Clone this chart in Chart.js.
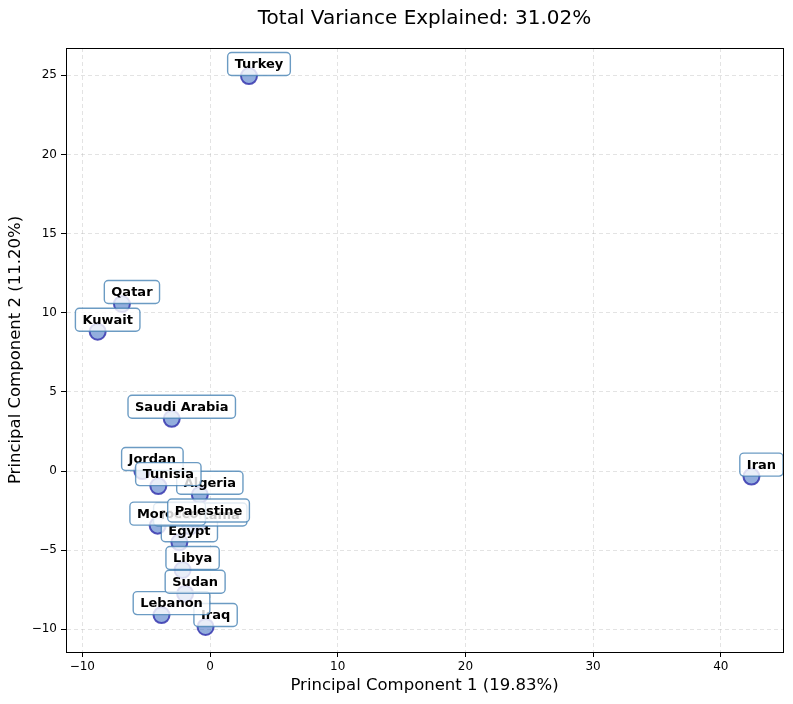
<!DOCTYPE html>
<html>
<head>
<meta charset="utf-8">
<script src="https://cdn.jsdelivr.net/npm/chart.js@4"></script>
<style>
  html, body { margin: 0; padding: 0; background: #ffffff; }
  #wrap { width: 793px; height: 704px; position: relative; }
</style>
</head>
<body>
<div id="wrap"><canvas id="c" width="793" height="704"></canvas></div>
<script>
// ---- data ----
const countries = ['Algeria','Egypt','Iran','Iraq','Jordan','Kuwait','Lebanon','Libya','Mauritania','Morocco','Palestine','Qatar','Saudi Arabia','Sudan','Tunisia','Turkey'];
const pc1 = [-0.8, -2.4, 42.4, -0.35, -5.3, -8.8, -3.8, -2.15, -1.55, -4.1, -0.9, -6.9, -3.0, -1.95, -4.05, 3.05];
const pc2 = [-1.5, -4.5, -0.35, -9.85, 0.0, 8.8, -9.1, -6.25, -3.5, -3.45, -3.25, 10.55, 3.3, -7.75, -0.95, 24.95];
const xTicks = [-10, 0, 10, 20, 30, 40];
const yTicks = [-10, -5, 0, 5, 10, 15, 20, 25];
const xRange = [-11.28, 44.87];
const yRange = [-11.43, 26.72];
const titleText = 'Total Variance Explained: 31.02%';
const xTitle = 'Principal Component 1 (19.83%)';
const yTitle = 'Principal Component 2 (11.20%)';

const FONT = "'DejaVu Sans', sans-serif";
const points = pc1.map((x, i) => ({ x: x, y: pc2[i] }));

const labelPlugin = {
  id: 'pointLabels',
  afterDatasetsDraw(chart) {
    const ctx = chart.ctx;
    const meta = chart.getDatasetMeta(0);
    ctx.save();
    ctx.font = "bold 13px " + FONT;
    ctx.textAlign = 'center';
    ctx.textBaseline = 'middle';
    meta.data.forEach((el, i) => {
      const cx = el.x + 10;
      const cy = el.y - 12;
      const txt = countries[i];
      const w = ctx.measureText(txt).width + 14;
      const h = 23;
      ctx.beginPath();
      ctx.roundRect(cx - w / 2, cy - h / 2, w, h, 4);
      ctx.fillStyle = 'rgba(255,255,255,0.8)';
      ctx.fill();
      ctx.lineWidth = 1.4;
      ctx.strokeStyle = 'rgba(70,130,180,0.8)';
      ctx.stroke();
      ctx.fillStyle = '#000000';
      ctx.fillText(txt, cx, cy + 1);
    });
    ctx.restore();
  }
};

const framePlugin = {
  id: 'frame',
  afterDraw(chart) {
    const a = chart.chartArea;
    const ctx = chart.ctx;
    ctx.save();
    ctx.strokeStyle = '#000000';
    ctx.lineWidth = 1;
    ctx.strokeRect(Math.round(a.left) + 0.5, Math.round(a.top) + 0.5, Math.round(a.right - a.left), Math.round(a.bottom - a.top));
    ctx.restore();
  }
};

new Chart(document.getElementById('c'), {
  type: 'scatter',
  data: {
    datasets: [{
      data: points,
      pointRadius: 8,
      pointHoverRadius: 8,
      borderWidth: 2,
      backgroundColor: 'rgba(80,125,200,0.62)',
      borderColor: 'rgba(55,55,175,0.85)'
    }]
  },
  options: {
    responsive: false,
    animation: false,
    devicePixelRatio: 1,
    layout: { padding: { top: 0, right: 10, left: 0, bottom: 0 } },
    plugins: {
      legend: { display: false },
      tooltip: { enabled: false },
      title: {
        display: true,
        fullSize: false,
        text: titleText,
        color: '#000000',
        font: { family: FONT, size: 20, weight: 'normal' },
        padding: { top: 6.5, bottom: 17.5 }
      }
    },
    scales: {
      x: {
        type: 'linear',
        min: xRange[0],
        max: xRange[1],
        afterBuildTicks: s => { s.ticks = xTicks.map(v => ({ value: v })); },
        afterFit: s => { s.height = 52; },
        ticks: { color: '#000000', font: { family: FONT, size: 12 }, padding: 3,
                 callback: v => (v < 0 ? '\u2212' + Math.abs(v) : String(v)) },
        grid: { color: 'rgba(176,176,176,0.35)', lineWidth: 1, tickColor: '#000000', tickLength: 5, tickBorderDash: [] },
        border: { display: true, color: '#000000', dash: [4, 3] },
        title: { display: true, text: xTitle, color: '#000000', font: { family: FONT, size: 16.5 }, padding: { top: 0, bottom: 8 } }
      },
      y: {
        type: 'linear',
        min: yRange[0],
        max: yRange[1],
        afterBuildTicks: s => { s.ticks = yTicks.map(v => ({ value: v })); },
        afterFit: s => { s.width = 66; },
        ticks: { color: '#000000', font: { family: FONT, size: 12 }, padding: 4,
                 callback: v => (v < 0 ? '\u2212' + Math.abs(v) : String(v)) },
        grid: { color: 'rgba(176,176,176,0.35)', lineWidth: 1, tickColor: '#000000', tickLength: 5, tickBorderDash: [] },
        border: { display: true, color: '#000000', dash: [4, 3] },
        title: { display: true, text: yTitle, color: '#000000', font: { family: FONT, size: 16.5 }, padding: { top: 6, bottom: 0 } }
      }
    }
  },
  plugins: [labelPlugin, framePlugin]
});
</script>
</body>
</html>
